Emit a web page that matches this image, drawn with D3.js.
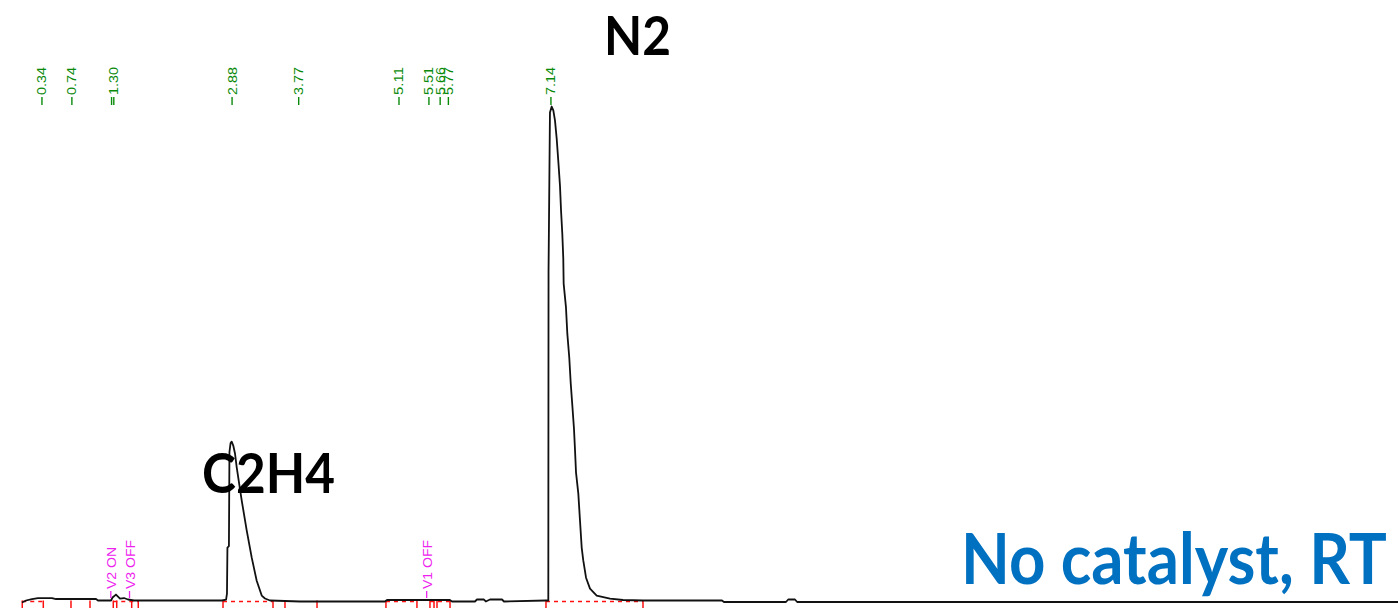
<!DOCTYPE html>
<html>
<head>
<meta charset="utf-8">
<script src="https://cdn.jsdelivr.net/npm/d3@7"></script>
<style>
  html, body { margin: 0; padding: 0; background: #fff; }
  svg { display: block; }
</style>
</head>
<body>
<div id="chart"></div>
<script>
// chromatogram trace (time in min, signal in mV)
var traceTime = [0.073, 0.127, 0.207, 0.287, 0.474, 0.528, 1.062, 1.089, 1.263, 1.283, 1.329, 1.356, 1.383, 1.436, 1.49, 1.57,
  2.745, 2.80, 2.812, 2.818, 2.838, 2.845, 2.86, 2.875, 2.896, 2.919, 2.942, 3.009, 3.076, 3.142, 3.209, 3.276, 3.32, 3.387,
  3.787, 4.923, 4.95, 5.79, 5.818, 6.125, 6.152, 6.245, 6.27, 6.326, 6.486, 6.513, 7.074,
  7.105, 7.108, 7.127, 7.150, 7.172, 7.194, 7.217, 7.238, 7.261, 7.275, 7.292, 7.305, 7.31, 7.341, 7.359, 7.385, 7.404,
  7.426, 7.448, 7.462, 7.475, 7.506, 7.528, 7.551, 7.572, 7.609, 7.662, 7.751, 7.929, 8.103, 8.37,
  9.425, 9.452, 10.28, 10.31, 10.40, 10.43, 18.46]
var traceSignal = [-4, 0, 3, 5, 5, 3, 3, 0, 0, 6, 12, 8, 4, 5, 2, 0,
  0, 2, 14, 107, 110, 300, 318, 321, 313, 297, 269, 202, 141, 87, 40, 10, 4, 0,
  -2, -2, 1, 1, -2, -2, 2, 2, -2, 2, 2, -2, 0,
  0, 663, 986, 998, 990, 970, 933, 889, 838, 788, 741, 691, 640, 592, 539, 491, 440,
  394, 347, 303, 259, 216, 162, 107, 81, 46, 24, 10, 4, 1, 0,
  0, -3, -3, 2, 2, -3, -3]

// retention time labels (green)
var retTimes = [0.34, 0.74, 1.30, 2.88, 3.77, 5.11, 5.51, 5.66, 5.77, 7.14]
var extraTicks = [1.27]

// valve events (magenta)
var eventTimes = [1.26, 1.51, 5.48]
var eventLabels = ["V2 ON", "V3 OFF", "V1 OFF"]

// integration marks (red)
var integMarks = [0.077, 0.358, 0.728, 0.982, 1.293, 1.339, 1.539, 1.627, 2.759, 3.427, 3.587, 4.015,
  4.936, 5.35, 5.524, 5.578, 5.618, 5.792, 7.074, 8.37]
var integBaselines = [[0.077, 0.358], [1.293, 1.627], [2.759, 3.427], [4.936, 5.35], [5.524, 5.792], [7.074, 8.37]]

var width = 1398, height = 608

var svg = d3.select("#chart").append("svg").attr("width", width).attr("height", height)
svg.append("rect").attr("width", width).attr("height", height).attr("fill", "#fff")

var x = d3.scaleLinear().domain([0, 18]).range([16.5, 1363.8])
var y = d3.scaleLinear().domain([0, 1000]).range([600.5, 105.5])

// integration baselines + marks
svg.selectAll(".ibase").data(integBaselines).enter().append("line")
  .attr("x1", d => x(d[0])).attr("x2", d => x(d[1]))
  .attr("y1", y(0) + 1).attr("y2", y(0) + 1)
  .attr("stroke", "#ff1010").attr("stroke-width", 1.5).attr("stroke-dasharray", "4,4")
svg.selectAll(".imark").data(integMarks).enter().append("line")
  .attr("x1", d => x(d)).attr("x2", d => x(d))
  .attr("y1", y(0)).attr("y2", height)
  .attr("stroke", "#ff1010").attr("stroke-width", 1.5)

// trace
var pts = traceTime.map((t, i) => [t, traceSignal[i]])
var line = d3.line().x(d => x(d[0])).y(d => y(d[1]))
svg.append("path").datum(pts).attr("d", line)
  .attr("fill", "none").attr("stroke", "#111").attr("stroke-width", 1.8)
  .attr("stroke-linejoin", "round")

// green retention labels
var green = "#0a8a0a"
var rg = svg.append("g")
rg.selectAll(".rtick").data(retTimes.concat(extraTicks)).enter().append("line")
  .attr("x1", d => x(d)).attr("x2", d => x(d))
  .attr("y1", 97).attr("y2", 105)
  .attr("stroke", green).attr("stroke-width", 1.4)
rg.selectAll(".rlab").data(retTimes).enter().append("text")
  .attr("transform", d => "translate(" + (x(d) + 4.5) + ",95) rotate(-90)")
  .attr("font-family", "'Liberation Sans', Arial, sans-serif")
  .attr("font-size", 12).attr("fill", green)
  .attr("textLength", 28).attr("lengthAdjust", "spacingAndGlyphs")
  .text(d => d.toFixed(2))

// magenta valve events
var mag = "#ee22ee"
var eg = svg.append("g")
eg.selectAll(".etick").data(eventTimes).enter().append("line")
  .attr("x1", d => x(d)).attr("x2", d => x(d))
  .attr("y1", 591).attr("y2", 598)
  .attr("stroke", mag).attr("stroke-width", 1.3)
eg.selectAll(".elab").data(eventTimes).enter().append("text")
  .attr("transform", d => "translate(" + (x(d) + 5) + ",589) rotate(-90)")
  .attr("font-family", "'Liberation Sans', Arial, sans-serif")
  .attr("font-size", 12.5).attr("fill", mag)
  .text((d, i) => eventLabels[i])
  .each(function() {
    var len = this.getComputedTextLength()
    d3.select(this).attr("textLength", len * 1.12).attr("lengthAdjust", "spacingAndGlyphs")
  })

// peak names and caption: squeeze horizontally to the widths seen in the picture
var bigFont = "Lato, 'Open Sans', 'Noto Sans', sans-serif"
const bigLabel = (txt, x0, y0, size, w, fill) => {
  var t = svg.append("text")
    .attr("font-family", bigFont).attr("font-weight", 700).attr("font-size", size)
    .attr("fill", fill).text(txt)
  var len = t.node().getComputedTextLength()
  t.attr("transform", "translate(" + x0 + "," + y0 + ") scale(" + (w / len) + ",1)")
}
bigLabel("N2", 604, 55, 54, 67, "#000")
bigLabel("C2H4", 202, 493, 55, 133, "#000")
bigLabel("No catalyst, RT", 961, 584, 70, 426, "#0070c0")
</script>
</body>
</html>
